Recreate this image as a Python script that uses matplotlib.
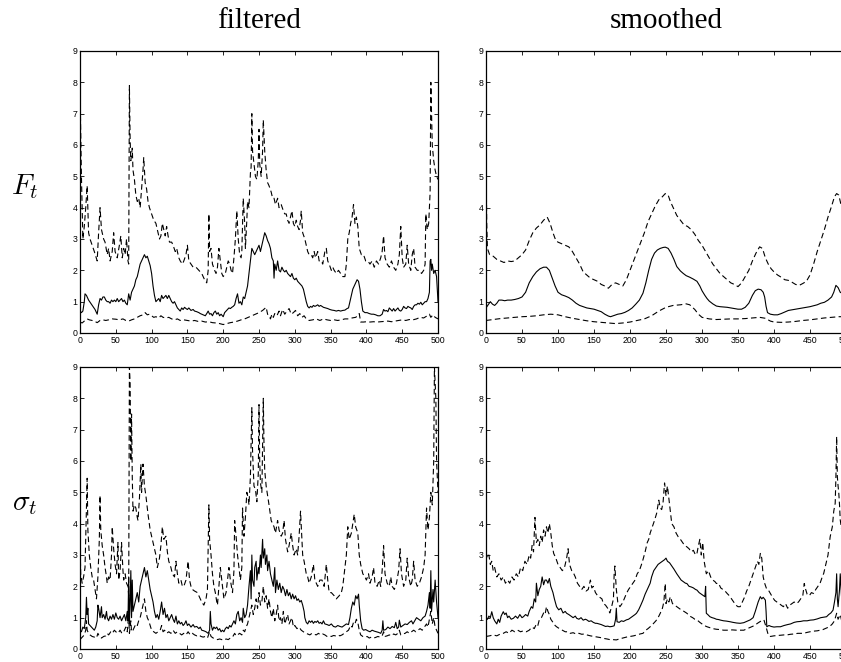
import matplotlib
matplotlib.use("Agg")
import matplotlib.pyplot as plt
import numpy as np

# (t, value), one list per curve
# F_t filtered
ff_up = [(0,7.8),(2,5.0),(4,3.0),(6,3.4),(8,4.0),(10,4.7),(12,3.2),(14,3.0),(17,2.8),(20,2.6),(24,2.3),(26,3.2),(28,4.0),(30,3.3),(33,3.0),(35,2.9),(38,2.5),(40,2.7),(42,2.3),(45,2.6),(47,3.2),(49,2.6),(52,2.4),(55,2.8),(57,3.1),(59,2.4),(61,2.7),(63,2.5),(65,3.0),(67,2.3),(68,2.2),(69,7.9),(70,6.2),(71,5.5),(73,5.9),(74,5.2),(76,4.9),(78,4.4),(80,4.2),(82,4.3),(84,4.0),(86,4.6),(88,5.2),(89,5.6),(91,4.8),(93,4.6),(95,4.2),(97,4.0),(100,3.8),(103,3.6),(106,3.5),(109,3.2),(111,3.0),(113,3.1),(115,3.5),(117,3.3),(119,3.1),(121,3.4),(123,3.1),(125,2.9),(128,2.9),(130,2.8),(133,2.6),(135,2.7),(138,2.4),(140,2.3),(143,2.2),(145,2.3),(148,2.5),(150,2.8),(152,2.3),(155,2.2),(158,2.1),(162,2.1),(166,2.0),(170,1.9),(174,1.7),(177,1.6),(179,2.0),(180,3.8),(181,2.6),(183,2.7),(185,2.2),(188,2.0),(190,1.9),(192,2.1),(194,2.7),(196,2.3),(198,1.9),(200,1.8),(203,1.9),(205,2.1),(207,2.3),(209,2.2),(211,2.0),(213,1.9),(215,2.4),(217,3.0),(219,3.9),(221,3.0),(223,2.5),(225,2.4),(226,2.6),(228,4.3),(230,3.5),(231,2.7),(233,3.6),(234,4.2),(236,4.0),(238,5.1),(239,5.3),(240,7.0),(241,5.8),(243,5.4),(245,5.0),(247,4.9),(249,5.5),(250,6.5),(251,5.4),(253,5.0),(255,5.8),(256,6.8),(258,5.8),(260,5.2),(262,4.8),(264,4.7),(267,4.5),(269,4.3),(271,4.3),(273,4.1),(276,4.3),(278,4.0),(281,4.1),(284,3.9),(286,3.8),(288,3.8),(290,3.6),(292,3.5),(294,3.7),(296,3.9),(298,3.5),(300,3.4),(302,3.6),(304,3.4),(306,3.3),(308,3.6),(309,3.9),(311,3.2),(314,3.0),(316,2.8),(318,2.6),(320,2.5),(323,2.5),(325,2.4),(327,2.6),(329,2.4),(332,2.6),(334,2.3),(337,2.3),(339,2.2),(342,2.6),(344,2.7),(346,2.3),(348,2.2),(351,2.0),(353,2.1),(355,2.0),(358,1.9),(361,2.0),(364,1.9),(367,1.8),(370,1.8),(372,2.2),(374,3.0),(376,3.2),(378,3.5),(380,3.7),(382,4.1),(384,3.5),(386,3.7),(388,3.4),(390,2.7),(393,2.5),(396,2.5),(399,2.3),(402,2.3),(405,2.2),(408,2.3),(411,2.1),(414,2.3),(417,2.2),(420,2.4),(422,2.6),(424,3.1),(426,2.4),(429,2.2),(432,2.1),(435,2.3),(438,2.1),(441,2.0),(444,2.2),(446,2.5),(448,3.4),(450,2.4),(452,2.1),(455,2.2),(457,2.8),(459,2.2),(462,2.0),(464,2.5),(466,2.7),(468,2.1),(471,2.0),(474,2.0),(477,1.9),(480,2.0),(482,2.2),(483,3.8),(485,3.3),(487,3.5),(489,4.5),(490,8.0),(492,6.0),(494,5.5),(496,5.2),(498,5.0),(500,4.9)]
ff_mid = [(0,0.7),(2,0.65),(4,0.7),(6,1.0),(7,1.25),(9,1.2),(12,1.05),(15,0.95),(18,0.85),(21,0.75),(24,0.6),(26,0.9),(28,1.1),(30,1.05),(32,1.15),(34,1.15),(36,1.05),(38,1.0),(40,1.0),(42,0.95),(44,1.05),(46,1.0),(48,1.05),(50,1.0),(52,1.1),(54,1.0),(56,1.05),(58,1.1),(60,1.0),(62,1.05),(64,0.95),(66,0.9),(68,1.25),(70,1.05),(72,1.3),(74,1.4),(76,1.5),(78,1.7),(80,1.8),(82,2.0),(84,2.2),(86,2.3),(88,2.4),(90,2.5),(92,2.4),(94,2.45),(96,2.3),(98,2.15),(100,1.9),(102,1.5),(104,1.2),(106,1.0),(108,1.05),(110,1.1),(112,1.0),(114,1.2),(116,1.1),(118,1.15),(120,1.2),(122,1.1),(124,1.2),(126,1.1),(128,1.0),(130,0.95),(132,1.0),(134,0.9),(136,0.8),(138,0.75),(140,0.7),(142,0.8),(144,0.75),(146,0.82),(148,0.78),(150,0.75),(152,0.8),(155,0.72),(158,0.75),(160,0.7),(163,0.68),(166,0.65),(168,0.62),(170,0.6),(172,0.58),(175,0.55),(177,0.62),(179,0.7),(181,0.6),(183,0.62),(185,0.55),(187,0.65),(189,0.7),(191,0.6),(193,0.65),(195,0.55),(197,0.6),(200,0.52),(202,0.65),(204,0.7),(206,0.75),(208,0.8),(210,0.78),(212,0.82),(214,0.85),(216,0.9),(218,1.1),(220,1.25),(222,0.95),(224,1.0),(226,0.9),(228,1.15),(230,1.1),(232,1.3),(234,1.5),(236,1.9),(238,2.3),(240,2.7),(242,2.6),(244,2.5),(246,2.6),(248,2.7),(250,2.8),(252,2.6),(254,2.8),(256,3.0),(258,3.2),(260,3.1),(262,2.95),(264,2.85),(266,2.7),(268,2.4),(270,2.3),(271,1.75),(272,2.2),(274,2.0),(276,2.3),(278,2.0),(280,1.95),(282,2.1),(284,2.0),(286,1.95),(288,2.0),(290,1.9),(292,1.85),(294,1.8),(296,1.9),(298,1.75),(300,1.7),(302,1.75),(304,1.65),(306,1.6),(308,1.55),(310,1.5),(312,1.4),(314,1.2),(316,1.0),(318,0.85),(320,0.8),(322,0.85),(324,0.82),(326,0.88),(328,0.85),(330,0.87),(332,0.9),(334,0.85),(336,0.88),(338,0.85),(340,0.82),(343,0.8),(346,0.78),(349,0.75),(352,0.73),(355,0.72),(358,0.7),(361,0.72),(364,0.7),(367,0.72),(370,0.73),(373,0.78),(375,0.8),(377,1.0),(379,1.2),(381,1.4),(383,1.5),(385,1.6),(387,1.7),(389,1.65),(391,1.4),(393,1.0),(395,0.7),(398,0.65),(401,0.65),(404,0.62),(407,0.6),(410,0.6),(413,0.58),(416,0.55),(419,0.55),(422,0.6),(424,0.75),(426,0.7),(428,0.72),(430,0.68),(432,0.8),(434,0.75),(436,0.7),(438,0.78),(440,0.7),(442,0.75),(444,0.8),(446,0.72),(448,0.7),(450,0.75),(452,0.85),(454,0.8),(456,0.78),(458,0.85),(460,0.82),(462,0.8),(464,0.75),(466,0.85),(468,0.9),(470,0.9),(472,0.95),(474,0.92),(476,0.98),(478,0.9),(480,0.95),(482,1.0),(484,1.0),(486,1.1),(488,1.3),(489,2.3),(490,2.35),(491,2.0),(492,2.2),(494,1.9),(496,2.0),(498,1.8),(500,1.0)]
ff_lo = [(0,0.35),(3,0.32),(6,0.38),(10,0.45),(13,0.42),(17,0.4),(20,0.38),(24,0.33),(28,0.4),(32,0.42),(36,0.4),(40,0.42),(45,0.45),(50,0.44),(55,0.42),(60,0.45),(64,0.4),(68,0.38),(72,0.42),(76,0.45),(80,0.5),(84,0.55),(88,0.58),(91,0.65),(94,0.58),(97,0.6),(100,0.55),(103,0.5),(106,0.52),(110,0.48),(113,0.55),(116,0.5),(120,0.48),(124,0.5),(128,0.45),(132,0.42),(136,0.45),(140,0.4),(145,0.42),(150,0.4),(155,0.38),(160,0.4),(165,0.37),(170,0.38),(175,0.35),(180,0.36),(185,0.33),(190,0.32),(195,0.3),(200,0.27),(205,0.3),(210,0.33),(215,0.35),(220,0.38),(225,0.42),(230,0.45),(235,0.5),(240,0.55),(245,0.6),(250,0.65),(255,0.72),(258,0.78),(260,0.82),(262,0.6),(264,0.55),(266,0.45),(268,0.6),(270,0.5),(272,0.62),(275,0.55),(278,0.7),(280,0.55),(283,0.75),(286,0.6),(289,0.7),(292,0.78),(295,0.6),(298,0.65),(301,0.72),(304,0.55),(307,0.62),(310,0.5),(313,0.55),(316,0.45),(320,0.4),(325,0.42),(330,0.45),(335,0.4),(340,0.45),(345,0.42),(350,0.4),(355,0.42),(360,0.4),(365,0.42),(370,0.45),(375,0.45),(380,0.48),(385,0.5),(388,0.55),(390,0.62),(392,0.35),(396,0.35),(400,0.36),(405,0.35),(410,0.36),(415,0.35),(420,0.36),(425,0.37),(430,0.38),(435,0.36),(440,0.38),(445,0.4),(450,0.42),(455,0.4),(460,0.43),(465,0.42),(470,0.45),(475,0.5),(480,0.48),(485,0.55),(488,0.6),(490,0.5),(493,0.58),(496,0.5),(500,0.45)]

# F_t smoothed
fs_up = [(0,5.5),(1,3.5),(2,2.7),(5,2.5),(10,2.45),(15,2.35),(20,2.3),(25,2.25),(30,2.3),(35,2.28),(40,2.3),(45,2.4),(50,2.5),(55,2.65),(60,2.95),(65,3.2),(70,3.35),(75,3.45),(80,3.6),(85,3.7),(89,3.5),(93,3.2),(97,2.95),(100,2.9),(105,2.85),(110,2.8),(115,2.75),(120,2.6),(125,2.4),(130,2.2),(135,1.95),(140,1.85),(145,1.75),(150,1.7),(155,1.65),(160,1.55),(165,1.5),(170,1.43),(175,1.55),(180,1.6),(185,1.55),(190,1.5),(195,1.7),(200,2.0),(205,2.3),(210,2.6),(215,2.9),(220,3.2),(225,3.55),(230,3.8),(235,4.05),(240,4.25),(245,4.35),(249,4.45),(253,4.4),(256,4.2),(260,4.0),(265,3.75),(270,3.6),(275,3.45),(280,3.4),(285,3.3),(290,3.15),(295,2.95),(300,2.8),(305,2.6),(310,2.4),(315,2.2),(320,2.05),(325,1.9),(330,1.8),(335,1.7),(340,1.6),(345,1.55),(350,1.48),(355,1.6),(360,1.8),(365,2.0),(370,2.3),(375,2.55),(380,2.75),(384,2.7),(388,2.4),(392,2.2),(396,2.05),(400,1.95),(405,1.85),(410,1.78),(415,1.7),(420,1.68),(425,1.62),(430,1.55),(435,1.52),(440,1.58),(445,1.65),(450,1.85),(455,2.2),(460,2.6),(465,2.95),(470,3.3),(475,3.7),(480,4.05),(484,4.35),(487,4.45),(490,4.4),(493,4.1),(496,4.05),(500,4.0)]
fs_mid = [(0,0.8),(3,0.9),(6,1.0),(9,0.92),(12,0.88),(15,0.95),(18,1.05),(22,1.05),(26,1.03),(30,1.05),(35,1.05),(40,1.07),(45,1.1),(50,1.15),(55,1.3),(60,1.6),(65,1.8),(70,1.95),(75,2.05),(80,2.1),(84,2.1),(88,2.0),(92,1.75),(96,1.5),(100,1.3),(105,1.22),(110,1.18),(115,1.13),(120,1.05),(125,0.95),(130,0.88),(135,0.84),(140,0.8),(145,0.78),(150,0.76),(155,0.72),(160,0.68),(165,0.6),(170,0.54),(173,0.52),(178,0.56),(183,0.6),(188,0.62),(193,0.66),(198,0.72),(203,0.8),(208,0.92),(213,1.05),(218,1.27),(222,1.6),(226,2.0),(230,2.35),(234,2.55),(238,2.65),(242,2.7),(246,2.73),(249,2.74),(253,2.7),(257,2.55),(261,2.35),(265,2.12),(270,1.98),(274,1.9),(278,1.83),(283,1.78),(288,1.72),(293,1.65),(297,1.5),(300,1.35),(304,1.2),(307,1.1),(310,1.02),(315,0.93),(320,0.86),(325,0.84),(330,0.83),(335,0.82),(340,0.8),(345,0.78),(350,0.76),(355,0.76),(360,0.82),(365,0.95),(370,1.2),(374,1.35),(378,1.4),(382,1.38),(385,1.3),(387,1.15),(389,0.85),(391,0.65),(395,0.6),(400,0.58),(405,0.58),(410,0.62),(415,0.67),(420,0.72),(425,0.74),(430,0.76),(440,0.8),(450,0.84),(460,0.9),(465,0.95),(470,0.98),(475,1.05),(480,1.15),(483,1.3),(486,1.52),(489,1.45),(492,1.3),(496,1.25),(500,1.25)]
fs_lo = [(0,0.4),(10,0.43),(20,0.46),(30,0.48),(40,0.5),(50,0.52),(60,0.53),(70,0.55),(80,0.58),(90,0.6),(100,0.58),(110,0.52),(120,0.47),(130,0.43),(140,0.39),(150,0.36),(160,0.34),(170,0.32),(180,0.3),(190,0.32),(200,0.35),(210,0.4),(220,0.45),(230,0.55),(240,0.7),(250,0.82),(260,0.88),(270,0.9),(278,0.93),(283,0.9),(290,0.75),(295,0.6),(300,0.5),(310,0.45),(320,0.43),(330,0.44),(340,0.45),(350,0.45),(360,0.46),(370,0.48),(380,0.5),(388,0.47),(395,0.38),(400,0.35),(410,0.34),(420,0.35),(430,0.37),(440,0.4),(450,0.42),(460,0.45),(470,0.48),(480,0.5),(490,0.52),(500,0.52)]

# sigma_t filtered
sf_up = [(0,3.4),(1,2.4),(3,2.1),(5,2.3),(7,2.6),(9,4.5),(10,5.45),(11,3.8),(13,3.0),(15,2.6),(17,2.3),(19,2.2),(21,1.9),(23,1.6),(25,2.3),(27,3.5),(28,4.9),(29,3.8),(31,3.3),(33,3.0),(35,2.6),(37,2.3),(38,2.1),(40,2.3),(42,2.2),(44,3.0),(45,3.9),(47,3.2),(49,2.7),(51,2.4),(53,3.4),(54,2.2),(56,2.5),(58,3.4),(60,2.5),(61,2.2),(63,2.4),(65,2.1),(67,2.0),(68,1.7),(69,9.0),(70,8.5),(71,6.0),(72,7.5),(73,5.5),(74,4.4),(76,4.6),(78,4.5),(80,4.2),(81,4.1),(83,4.8),(85,5.9),(86,5.0),(88,5.9),(90,5.2),(92,4.9),(94,4.5),(95,4.3),(98,3.8),(100,3.6),(103,3.3),(106,3.0),(108,2.6),(111,2.9),(113,3.3),(115,3.9),(117,3.5),(120,3.6),(122,3.1),(124,2.8),(127,2.6),(129,2.4),(132,2.3),(134,2.8),(136,2.4),(138,2.1),(141,2.2),(143,2.0),(145,2.0),(148,2.2),(151,2.8),(153,2.2),(155,2.0),(157,1.9),(160,1.85),(164,1.8),(167,1.65),(170,1.5),(173,1.4),(176,1.6),(178,1.9),(180,4.6),(181,3.5),(183,3.0),(185,2.4),(187,2.0),(189,1.8),(191,1.5),(192,1.4),(194,2.0),(196,2.6),(198,2.2),(201,1.6),(204,1.8),(206,2.2),(208,2.6),(210,2.2),(213,1.8),(215,2.5),(216,4.1),(218,3.6),(220,3.0),(222,2.6),(224,2.2),(226,2.6),(227,4.5),(229,3.6),(231,4.2),(233,5.0),(235,4.8),(236,4.6),(238,5.5),(240,7.7),(241,6.3),(243,5.2),(245,5.1),(247,4.7),(249,5.6),(250,7.8),(251,6.0),(252,5.3),(254,5.0),(255,6.5),(256,8.0),(257,6.5),(258,5.7),(260,5.2),(262,4.9),(264,4.6),(267,4.1),(269,4.0),(271,3.9),(273,3.7),(276,4.1),(278,3.8),(281,3.6),(283,3.7),(285,4.1),(287,3.5),(290,3.1),(292,3.3),(295,3.7),(297,3.3),(299,3.0),(302,3.2),(304,3.0),(306,3.6),(308,4.4),(310,3.5),(311,3.0),(313,2.8),(316,2.4),(318,2.3),(320,2.1),(323,2.3),(326,2.7),(328,2.2),(330,2.1),(332,2.0),(335,2.2),(338,2.2),(341,2.0),(344,2.7),(346,2.2),(348,1.8),(351,1.8),(355,1.7),(358,1.6),(362,1.7),(365,1.8),(367,2.0),(370,2.6),(372,3.0),(374,3.9),(376,3.5),(379,3.7),(381,4.0),(383,4.3),(385,3.9),(388,3.7),(390,3.0),(392,2.7),(395,2.4),(398,2.3),(400,2.2),(403,2.4),(405,2.1),(408,2.3),(410,2.6),(412,2.1),(415,2.0),(418,2.2),(420,2.0),(422,2.5),(424,3.3),(426,2.4),(429,2.1),(432,2.0),(434,2.3),(436,2.0),(439,1.9),(442,2.1),(445,2.5),(447,3.2),(449,2.4),(452,2.0),(455,2.2),(457,2.9),(459,2.3),(462,2.0),(464,2.2),(466,2.8),(468,2.2),(471,2.0),(474,2.1),(477,2.3),(480,2.6),(482,3.0),(484,4.5),(486,3.8),(488,4.2),(490,5.0),(492,4.6),(494,6.0),(495,9.0),(497,8.0),(498,6.0),(500,5.0)]
sf_mid = [(0,0.6),(2,0.55),(4,0.7),(6,0.65),(8,1.0),(9,1.65),(10,1.1),(11,1.3),(12,0.8),(14,0.75),(16,0.7),(18,0.65),(20,0.6),(22,0.7),(24,0.9),(25,1.4),(26,1.3),(28,1.0),(30,1.35),(31,1.0),(33,1.1),(35,0.95),(37,1.2),(38,1.0),(40,0.9),(42,1.05),(44,0.95),(46,1.1),(48,0.95),(50,1.15),(52,1.0),(54,0.95),(56,1.05),(58,0.9),(60,1.0),(62,1.1),(64,0.9),(66,1.2),(67,0.9),(68,2.3),(69,0.8),(70,1.5),(71,2.5),(72,1.0),(73,2.2),(74,1.2),(76,1.4),(78,1.6),(80,1.8),(82,1.5),(84,2.0),(86,2.2),(88,2.4),(90,2.6),(92,2.3),(94,2.5),(96,2.2),(98,1.9),(100,1.7),(102,1.5),(104,1.2),(106,1.0),(108,1.1),(110,0.95),(112,1.2),(114,1.5),(116,1.1),(118,1.3),(120,1.0),(122,1.1),(124,0.9),(126,1.0),(128,1.1),(130,0.95),(132,0.85),(134,1.05),(136,0.8),(138,0.9),(140,0.8),(142,0.85),(144,0.75),(146,0.8),(148,0.9),(150,0.75),(152,0.8),(155,0.7),(158,0.78),(160,0.7),(163,0.72),(166,0.65),(168,0.7),(170,0.6),(173,0.58),(176,0.55),(179,0.5),(181,0.6),(182,1.2),(183,0.8),(185,0.6),(187,0.7),(189,0.65),(191,0.7),(193,0.6),(195,0.65),(197,0.55),(199,0.6),(201,0.55),(203,0.65),(205,0.7),(207,0.65),(209,0.75),(211,0.7),(213,0.8),(215,0.9),(217,0.8),(219,1.1),(221,1.2),(223,0.9),(225,1.0),(227,0.85),(228,1.3),(230,1.0),(232,1.1),(234,1.4),(236,2.0),(238,2.5),(239,1.6),(240,3.0),(241,2.2),(243,2.0),(244,2.6),(246,2.8),(247,2.2),(249,2.6),(250,2.4),(252,3.0),(253,2.6),(255,3.5),(256,2.9),(258,3.2),(259,2.7),(261,3.0),(262,2.5),(264,2.8),(266,2.4),(268,2.2),(270,2.0),(272,2.6),(273,1.8),(275,2.2),(277,1.9),(279,2.1),(281,1.8),(283,2.0),(285,1.9),(287,1.7),(289,1.9),(291,1.7),(293,1.8),(295,1.6),(297,1.75),(299,1.6),(301,1.7),(303,1.55),(305,1.6),(307,1.5),(309,1.55),(311,1.4),(313,1.2),(314,1.0),(316,0.85),(318,0.8),(320,0.9),(322,0.85),(324,0.9),(326,0.82),(328,0.88),(330,0.85),(332,0.9),(334,0.82),(336,0.85),(338,0.8),(340,0.9),(342,0.8),(345,0.78),(348,0.75),(351,0.8),(354,0.72),(357,0.7),(360,0.75),(363,0.72),(366,0.7),(369,0.75),(372,0.8),(375,0.78),(377,1.0),(379,1.3),(381,1.5),(383,1.4),(385,1.7),(387,1.6),(389,1.75),(390,1.4),(392,0.9),(394,0.65),(396,0.6),(399,0.62),(402,0.58),(405,0.55),(408,0.6),(411,0.57),(414,0.55),(417,0.53),(420,0.5),(422,0.6),(423,0.9),(424,0.6),(427,0.62),(430,0.7),(433,0.65),(436,0.72),(439,0.68),(441,0.85),(443,0.65),(445,0.7),(446,0.92),(448,0.7),(451,0.75),(454,0.8),(457,0.78),(460,0.85),(463,0.9),(465,0.8),(468,0.92),(470,1.0),(473,0.95),(476,0.9),(479,1.0),(482,1.05),(484,1.2),(486,1.4),(488,1.8),(489,1.3),(490,2.5),(491,1.2),(493,1.9),(494,1.5),(496,2.2),(498,1.5),(500,1.0)]
sf_lo = [(0,0.3),(2,0.35),(4,0.4),(6,0.45),(8,0.6),(9,0.9),(10,0.6),(12,0.5),(14,0.45),(17,0.4),(20,0.38),(23,0.35),(25,0.5),(27,0.4),(30,0.35),(33,0.4),(36,0.42),(38,0.5),(40,0.45),(43,0.55),(45,0.5),(48,0.6),(50,0.55),(53,0.5),(56,0.6),(58,0.52),(60,0.5),(62,0.6),(64,0.7),(66,0.55),(68,1.1),(69,0.5),(71,0.9),(72,0.55),(74,0.6),(76,0.7),(78,0.8),(80,0.75),(82,0.9),(84,1.0),(86,1.2),(88,1.4),(90,1.6),(92,1.2),(94,1.0),(96,0.9),(98,0.75),(100,0.6),(103,0.55),(106,0.5),(109,0.55),(112,0.6),(114,0.75),(116,0.55),(118,0.6),(121,0.5),(124,0.55),(127,0.5),(130,0.6),(133,0.5),(136,0.55),(139,0.5),(142,0.45),(145,0.5),(148,0.45),(151,0.55),(154,0.45),(157,0.5),(160,0.45),(163,0.42),(166,0.45),(169,0.4),(172,0.38),(175,0.4),(178,0.35),(181,0.55),(183,0.4),(186,0.35),(189,0.33),(192,0.3),(195,0.32),(198,0.3),(201,0.28),(204,0.32),(207,0.3),(210,0.35),(213,0.38),(216,0.5),(218,0.42),(220,0.45),(223,0.5),(226,0.45),(228,0.6),(230,0.55),(232,0.7),(234,0.8),(236,1.0),(238,1.2),(240,1.4),(242,1.1),(244,1.3),(246,1.6),(248,1.3),(250,1.8),(252,1.4),(254,1.5),(256,2.0),(258,1.5),(260,1.7),(262,1.3),(264,1.6),(266,1.2),(268,1.0),(270,1.3),(272,0.9),(274,1.1),(276,1.4),(278,0.9),(280,1.0),(282,0.8),(284,1.2),(286,0.8),(288,0.95),(290,1.1),(292,0.8),(294,0.9),(296,1.0),(298,0.7),(300,0.75),(303,0.65),(306,0.7),(309,0.6),(312,0.55),(315,0.5),(318,0.48),(321,0.45),(324,0.5),(327,0.47),(330,0.45),(333,0.5),(336,0.45),(339,0.48),(342,0.45),(345,0.4),(348,0.42),(351,0.4),(354,0.43),(357,0.42),(360,0.45),(363,0.42),(366,0.45),(369,0.5),(372,0.55),(375,0.6),(378,0.75),(380,0.7),(382,0.85),(384,0.8),(386,0.95),(388,0.85),(390,0.6),(392,0.45),(395,0.4),(398,0.38),(401,0.4),(404,0.35),(407,0.38),(410,0.35),(413,0.37),(416,0.4),(419,0.38),(422,0.42),(424,0.55),(426,0.4),(429,0.42),(432,0.45),(435,0.42),(438,0.48),(441,0.45),(444,0.5),(446,0.6),(448,0.45),(451,0.48),(454,0.5),(457,0.55),(460,0.5),(463,0.55),(466,0.6),(469,0.55),(472,0.6),(475,0.65),(478,0.6),(481,0.7),(484,0.8),(486,0.7),(488,0.95),(490,1.2),(492,0.8),(494,1.0),(496,0.7),(498,0.6),(500,0.5)]

# sigma_t smoothed
ss_up = [(0,3.1),(2,2.9),(4,3.0),(6,2.7),(8,2.8),(10,2.5),(12,2.6),(15,2.3),(18,2.4),(21,2.2),(24,2.3),(27,2.1),(30,2.2),(33,2.1),(36,2.3),(39,2.2),(42,2.4),(45,2.3),(48,2.6),(51,2.5),(54,2.8),(57,2.7),(60,3.0),(62,2.9),(64,3.3),(66,3.1),(68,4.2),(70,3.4),(72,3.5),(74,3.3),(76,3.6),(78,3.4),(80,3.8),(82,3.6),(84,3.9),(86,3.7),(88,4.0),(90,3.7),(92,3.3),(94,3.05),(97,2.9),(100,2.7),(103,2.6),(106,2.5),(109,2.6),(112,2.9),(114,3.2),(116,2.7),(119,2.5),(122,2.4),(124,2.3),(127,2.1),(130,2.0),(133,1.9),(136,2.0),(139,1.85),(142,1.9),(145,2.2),(147,1.95),(149,2.0),(152,1.8),(155,1.7),(158,1.65),(161,1.6),(163,1.45),(166,1.4),(169,1.3),(172,1.15),(175,1.4),(177,1.6),(178,2.4),(179,2.65),(181,1.9),(183,1.5),(186,1.35),(189,1.45),(192,1.6),(195,1.77),(198,1.9),(201,2.0),(204,2.1),(207,2.2),(210,2.4),(213,2.5),(216,2.7),(218,2.85),(221,3.1),(224,3.4),(226,3.5),(228,3.7),(231,3.9),(234,4.1),(237,4.33),(240,4.75),(242,4.5),(244,4.45),(246,4.7),(248,5.3),(250,4.9),(252,5.2),(253,5.0),(255,4.6),(258,4.0),(261,3.9),(264,3.7),(267,3.58),(270,3.5),(273,3.4),(276,3.3),(279,3.26),(282,3.2),(285,3.1),(288,3.15),(291,3.0),(293,3.05),(295,3.3),(297,3.5),(299,3.0),(301,3.4),(303,2.8),(306,2.4),(309,2.5),(312,2.3),(315,2.2),(318,2.15),(320,2.09),(323,2.1),(326,1.95),(329,1.9),(332,1.85),(335,1.77),(338,1.7),(341,1.6),(344,1.5),(347,1.4),(350,1.35),(353,1.35),(356,1.5),(359,1.65),(362,1.85),(365,2.0),(368,2.2),(371,2.4),(374,2.6),(377,2.8),(379,2.7),(381,3.05),(383,2.9),(385,2.3),(387,2.1),(390,1.9),(393,1.85),(395,1.77),(398,1.65),(401,1.55),(404,1.5),(407,1.45),(410,1.4),(413,1.35),(416,1.45),(419,1.3),(422,1.4),(425,1.45),(428,1.5),(431,1.45),(434,1.5),(437,1.6),(440,1.7),(442,2.09),(444,1.9),(446,1.75),(449,1.7),(452,1.8),(455,1.77),(458,1.9),(461,2.0),(464,2.1),(467,2.3),(469,2.41),(472,2.7),(475,3.0),(478,3.58),(481,3.9),(483,4.4),(485,4.65),(486,5.5),(487,6.78),(488,5.5),(489,5.2),(490,4.97),(491,4.6),(492,4.12),(494,3.8),(496,3.6),(498,3.5),(500,3.4)]
ss_mid = [(0,0.93),(2,0.95),(4,1.05),(6,1.0),(8,1.19),(10,1.0),(12,0.9),(15,0.8),(17,0.95),(19,0.85),(21,1.05),(24,1.19),(26,1.1),(28,1.15),(30,1.0),(32,1.05),(35,0.95),(38,0.98),(41,1.05),(44,0.98),(47,1.1),(50,1.0),(52,1.03),(55,1.1),(58,1.05),(60,1.2),(63,1.35),(65,1.3),(67,1.6),(69,1.5),(70,2.1),(72,1.7),(74,1.9),(76,2.0),(78,2.3),(80,2.05),(82,2.2),(84,2.2),(86,2.1),(88,2.25),(90,2.0),(93,1.8),(95,1.6),(98,1.35),(101,1.25),(104,1.3),(107,1.15),(110,1.2),(112,1.14),(115,1.1),(118,1.05),(121,1.0),(124,1.05),(126,0.98),(129,0.95),(132,1.0),(135,0.92),(138,0.95),(140,0.93),(143,0.88),(146,0.9),(149,0.85),(152,0.82),(154,0.82),(157,0.8),(160,0.78),(163,0.75),(166,0.72),(169,0.73),(172,0.71),(175,0.72),(178,0.74),(180,0.95),(181,1.3),(182,0.87),(185,0.85),(188,0.9),(191,0.88),(195,0.93),(198,0.95),(201,1.0),(204,1.05),(207,1.1),(209,1.14),(212,1.25),(215,1.4),(218,1.56),(221,1.75),(224,1.9),(226,2.0),(228,2.1),(230,2.3),(233,2.5),(236,2.6),(239,2.7),(242,2.75),(245,2.8),(248,2.85),(250,2.9),(252,2.8),(255,2.75),(258,2.65),(261,2.55),(265,2.4),(268,2.3),(271,2.2),(274,2.15),(277,2.1),(279,2.09),(282,2.0),(285,1.98),(288,1.95),(291,1.9),(293,1.88),(296,1.8),(299,1.75),(302,1.7),(304,1.67),(305,2.0),(306,1.14),(308,1.1),(311,1.03),(314,1.0),(317,0.98),(320,0.95),(323,0.94),(326,0.92),(330,0.9),(334,0.89),(339,0.87),(343,0.85),(348,0.83),(353,0.82),(358,0.84),(362,0.88),(367,0.93),(371,1.0),(374,1.2),(376,1.35),(378,1.5),(381,1.67),(383,1.6),(385,1.65),(388,1.56),(389,1.2),(390,0.71),(393,0.75),(396,0.72),(400,0.7),(404,0.71),(409,0.71),(414,0.75),(419,0.78),(423,0.8),(428,0.85),(432,0.87),(437,0.88),(441,0.9),(446,0.9),(450,0.92),(455,0.93),(460,0.96),(465,1.0),(470,1.02),(473,1.03),(476,1.1),(479,1.15),(482,1.24),(484,1.5),(486,1.8),(487,2.4),(488,1.6),(489,1.35),(491,1.9),(492,2.4),(494,1.6),(496,1.3),(500,1.2)]
ss_lo = [(0,0.4),(5,0.42),(10,0.45),(15,0.42),(20,0.48),(24,0.5),(28,0.55),(32,0.5),(36,0.6),(40,0.55),(44,0.6),(48,0.55),(52,0.58),(56,0.55),(60,0.6),(64,0.7),(67,0.65),(70,0.8),(72,0.75),(74,0.93),(77,1.0),(80,1.15),(82,1.1),(84,1.35),(86,1.2),(88,1.1),(90,0.95),(93,0.85),(96,0.75),(98,0.71),(102,0.65),(106,0.6),(110,0.55),(114,0.55),(117,0.5),(121,0.52),(125,0.48),(129,0.5),(133,0.47),(137,0.48),(140,0.45),(145,0.42),(150,0.4),(155,0.38),(160,0.36),(163,0.34),(168,0.32),(172,0.3),(176,0.3),(181,0.29),(185,0.32),(190,0.35),(195,0.38),(200,0.4),(205,0.42),(210,0.45),(214,0.48),(218,0.5),(222,0.6),(225,0.65),(228,0.71),(232,0.8),(236,0.9),(239,1.0),(242,1.14),(245,1.3),(247,1.5),(249,2.09),(250,1.45),(252,1.6),(254,1.5),(256,1.67),(259,1.45),(262,1.4),(265,1.35),(268,1.3),(271,1.25),(275,1.2),(279,1.14),(283,1.05),(287,1.0),(290,0.95),(293,0.93),(297,0.85),(300,0.8),(303,0.75),(307,0.71),(311,0.68),(315,0.65),(320,0.63),(325,0.62),(330,0.6),(336,0.6),(342,0.61),(348,0.6),(353,0.6),(358,0.6),(363,0.65),(368,0.7),(373,0.75),(377,0.82),(381,0.88),(384,0.9),(386,0.93),(389,0.7),(392,0.45),(395,0.4),(400,0.42),(405,0.43),(410,0.44),(414,0.45),(418,0.45),(423,0.47),(428,0.48),(433,0.5),(437,0.5),(441,0.5),(446,0.53),(450,0.55),(455,0.57),(460,0.58),(464,0.6),(468,0.62),(472,0.66),(477,0.71),(481,0.8),(484,0.9),(487,1.14),(489,0.95),(492,1.1),(495,0.8),(500,0.7)]

col_titles = ["filtered", "smoothed"]
row_labels = [r"$F_t$", r"$\sigma_t$"]
x_ticks = list(range(0, 501, 50))
y_ticks = list(range(0, 10))

plt.rcParams["mathtext.fontset"] = "cm"

W, H = 841, 662
fig = plt.figure(figsize=(W / 100, H / 100), dpi=100)

# axes boxes in pixels: left, top, width, height
cols_px = [(80, 358), (486, 360)]
rows_px = [(51, 282), (367, 282)]

panels = [[(ff_up, ff_mid, ff_lo), (fs_up, fs_mid, fs_lo)],
          [(sf_up, sf_mid, sf_lo), (ss_up, ss_mid, ss_lo)]]

for r, (top, h) in enumerate(rows_px):
    for c, (left, w) in enumerate(cols_px):
        ax = fig.add_axes([left / W, 1 - (top + h) / H, w / W, h / H])
        up, mid, lo = panels[r][c]
        for series, ls in [(up, (0, (5, 3))), (mid, "-"), (lo, (0, (5, 3)))]:
            t, v = zip(*series)
            ax.plot(t, v, color="black", lw=0.8, linestyle=ls)
        ax.set_xlim(0, 500)
        ax.set_ylim(0, 9)
        ax.set_xticks(x_ticks)
        ax.set_yticks(y_ticks)
        ax.tick_params(direction="in", top=True, right=True, length=3,
                       width=0.6, labelsize=6.3, pad=2, colors="black")
        for lab in ax.get_xticklabels() + ax.get_yticklabels():
            lab.set_family("Liberation Sans")
        for sp in ax.spines.values():
            sp.set_linewidth(0.9)

for c, (left, w) in enumerate(cols_px):
    fig.text((left + w / 2) / W, 1 - 28 / H, col_titles[c], ha="center",
             va="baseline", family="Liberation Serif", fontsize=21)

for r, (top, h) in enumerate(rows_px):
    fig.text(25 / W, 1 - (top + h / 2 - 5) / H, row_labels[r], ha="center",
             va="center", fontsize=21)

fig.savefig("out.png", dpi=100)
